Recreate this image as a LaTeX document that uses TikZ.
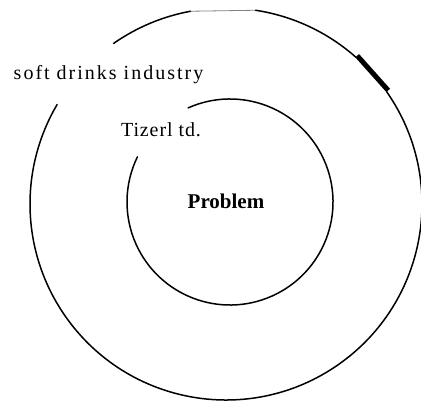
\documentclass[tikz,border=0pt]{standalone}
\usepackage{fontspec}
\setmainfont{Liberation Serif}
\usetikzlibrary{calc}

\begin{document}
\begin{tikzpicture}[%
x=1pt, y=1pt,
ring/.style={line width=1.5pt, line cap=round},
label/.style={font=\fontsize{20}{24}\selectfont, inner sep=0pt, anchor=base},
]
\useasboundingbox (0,0) rectangle (421,400);
%% outer ring;
\coordinate (outer) at (226,196);
\draw [ring] ($(outer)+(125:196)$) arc (125:100.4:196);
\draw [color=gray, line width=0.8pt] ($(outer)+(100.4:196)$) -- ($(outer)+(81.3:196)$);
\draw [ring] ($(outer)+(81.3:196)$) arc (81.3:48.5:196);
\draw [line width=5pt] ($(outer)+(48.5:198)$) -- ($(outer)+(35:198)$);
\draw [ring] ($(outer)+(35:196)$) arc (35:-210.5:196);
%% inner ring;
\coordinate (inner) at (230,198);
\draw [ring] ($(inner)+(114:103)$) arc (114:-206:103);
%% labels;
\node [label] (industry) at (108.5,320) {\addfontfeature{LetterSpace=10}soft drinks industry};
\node [label] (firm) at (161,263) {\addfontfeature{LetterSpace=4.5}Tizerl td.};
\node [label, font=\fontsize{21}{24}\selectfont\bfseries] (problem) at (226,192) {Problem};
\end{tikzpicture}
\end{document}
